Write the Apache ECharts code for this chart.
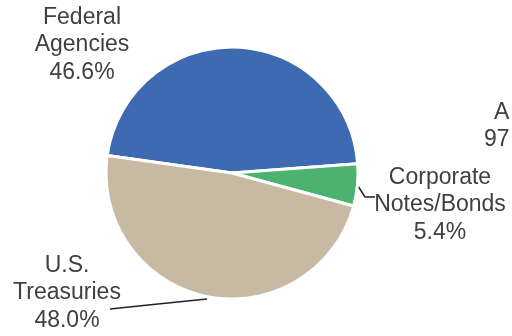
<!DOCTYPE html>
<html>
<head>
<meta charset="utf-8">
<script src="https://cdn.jsdelivr.net/npm/echarts@6/dist/echarts.min.js"></script>
<style>
  html, body { margin: 0; padding: 0; background: #fff; }
  #chart { width: 512px; height: 336px; }
</style>
</head>
<body>
<div id="chart"></div>
<script>
// Portfolio allocation by security type (percent of total)
const categories = ['Federal\nAgencies', 'Corporate\nNotes/Bonds', 'U.S.\nTreasuries'];
const shares = [46.6, 5.4, 48.0];
const colors = ['#3E6AB2', '#4BB26F', '#C8B9A3'];

// Where each label block sits, and the leader line drawn to it
const labelSpots = [
  { x: 82, y: 45, line: null },
  { x: 440, y: 205, line: [[358, 186], [365, 197], [375, 197]] },
  { x: 67, y: 293, line: [[207, 299], [158, 304], [110, 309]] }
];

const FONT = 'Liberation Sans, Arial, sans-serif';
const chart = echarts.init(document.getElementById('chart'), null, { renderer: 'canvas' });

chart.setOption({
  backgroundColor: '#fff',
  animation: false,
  textStyle: { fontFamily: FONT },
  graphic: [
    { type: 'text', left: 494, top: 101, style: { text: 'A', fontSize: 23, fill: '#404040', fontFamily: FONT } },
    { type: 'text', left: 484, top: 128, style: { text: '97', fontSize: 23, fill: '#404040', fontFamily: FONT } }
  ],
  series: [{
    type: 'pie',
    center: [232, 173],
    radius: 126,
    startAngle: 172,
    clockwise: true,
    avoidLabelOverlap: false,
    itemStyle: { borderColor: '#fff', borderWidth: 3 },
    label: {
      show: true,
      position: 'outside',
      fontSize: 23,
      lineHeight: 27.5,
      color: '#404040',
      align: 'center',
      fontFamily: FONT,
      formatter: p => p.name + '\n' + p.value.toFixed(1) + '%'
    },
    labelLine: { show: true, lineStyle: { color: '#222', width: 1.5 }, smooth: false },
    labelLayout: params => {
      const s = labelSpots[params.dataIndex];
      const out = { x: s.x, y: s.y, align: 'center', verticalAlign: 'middle' };
      if (s.line) out.labelLinePoints = s.line;
      return out;
    },
    data: categories.map((name, i) => ({
      name: name,
      value: shares[i],
      itemStyle: { color: colors[i] },
      labelLine: { show: labelSpots[i].line !== null }
    }))
  }]
});
</script>
</body>
</html>
